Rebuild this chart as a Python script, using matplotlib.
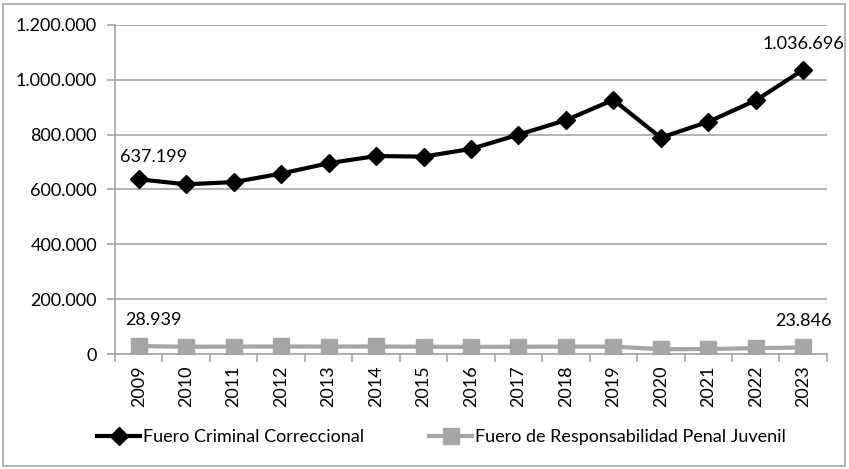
import matplotlib.pyplot as plt
from matplotlib.patches import Rectangle
from matplotlib.ticker import FuncFormatter, FixedLocator

plt.rcParams['font.family'] = ['Lato', 'DejaVu Sans']

years = ['2009', '2010', '2011', '2012', '2013', '2014', '2015', '2016',
         '2017', '2018', '2019', '2020', '2021', '2022', '2023']
criminal = [637199, 619000, 627000, 658000, 696000, 722000, 720000, 748000,
            800000, 853000, 927000, 789000, 847000, 925000, 1036696]
juvenil = [28939, 26500, 27000, 27500, 27000, 27500, 26500, 26000,
           26500, 27000, 27000, 17500, 18000, 21500, 23846]


def miles(v, pos=None):
    return f'{int(round(v)):,}'.replace(',', '.')


fig = plt.figure(figsize=(8.49, 4.69), dpi=100)
ax = fig.add_axes([0.1355, 0.2452, 0.8385, 0.7015])

x = list(range(len(years)))
ax.plot(x, criminal, color='black', lw=3, marker='D', ms=9,
        label='Fuero Criminal Correccional', zorder=3)
ax.plot(x, juvenil, color='#a6a6a6', lw=3, marker='s', ms=11,
        label='Fuero de Responsabilidad Penal Juvenil', zorder=3)

# etiquetas de primer y último año
fs = 13
ax.annotate(miles(criminal[0]), (x[0], criminal[0]), xytext=(15, 22),
            textcoords='offset pixels', ha='center', va='center', fontsize=fs)
ax.annotate(miles(criminal[-1]), (x[-1], criminal[-1]), xytext=(0, 26),
            textcoords='offset pixels', ha='center', va='center', fontsize=fs)
ax.annotate(miles(juvenil[0]), (x[0], juvenil[0]), xytext=(15, 26),
            textcoords='offset pixels', ha='center', va='center', fontsize=fs)
ax.annotate(miles(juvenil[-1]), (x[-1], juvenil[-1]), xytext=(0, 26),
            textcoords='offset pixels', ha='center', va='center', fontsize=fs)

ax.set_xlim(-0.5, len(years) - 0.5)
ax.set_ylim(0, 1200000)
ax.set_yticks(range(0, 1200001, 200000))
ax.yaxis.set_major_formatter(FuncFormatter(miles))
ax.set_xticks(x)
ax.set_xticklabels(years, rotation=90)
ax.xaxis.set_minor_locator(FixedLocator([i - 0.5 for i in range(len(years) + 1)]))
ax.tick_params(axis='x', which='major', length=0, pad=8, labelsize=fs)
ax.tick_params(axis='x', which='minor', length=6, color='#a6a6a6', width=1.2)
ax.tick_params(axis='y', length=6, color='#a6a6a6', width=1.2, labelsize=fs, pad=7)
ax.grid(axis='y', color='#a6a6a6', lw=1.2)
ax.set_axisbelow(True)
for s in ['top', 'right']:
    ax.spines[s].set_visible(False)
for s in ['left', 'bottom']:
    ax.spines[s].set_color('#a6a6a6')
    ax.spines[s].set_linewidth(1.2)

fig.legend(loc='center', bbox_to_anchor=(0.52, 0.068), ncol=2, frameon=False,
           fontsize=fs, handlelength=2.4, columnspacing=3.6, handletextpad=0.15)

fig.patches.append(Rectangle((0.004, 0.006), 0.991, 0.986, transform=fig.transFigure,
                             fill=False, edgecolor='#a6a6a6', lw=1.2))

fig.savefig('out.png', dpi=100)
